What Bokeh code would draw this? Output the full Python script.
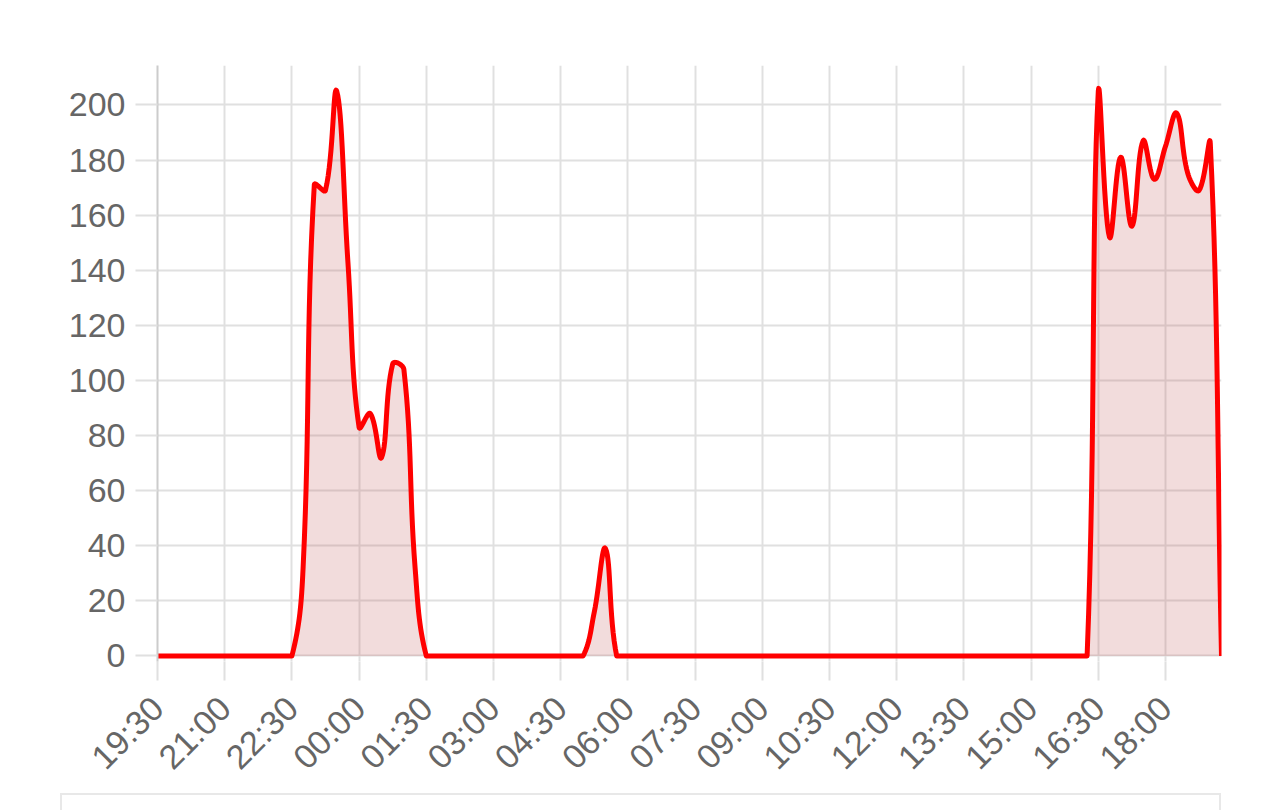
import numpy as np
from math import pi
from bokeh.plotting import figure
from bokeh.models import FixedTicker, Range1d, Div
from bokeh.layouts import column
from bokeh.embed import file_html
from bokeh.resources import INLINE

# ---- data (15-minute samples starting at 19:30) ----
interval_minutes = 15
values = [
    0, 0, 0, 0, 0, 0, 0, 0, 0, 0, 0, 0, 0,          # 19:30 .. 22:30
    32, 171, 169, 205, 143, 83, 88, 72, 106, 104, 32,  # 22:45 .. 01:15
    0, 0, 0, 0, 0, 0, 0, 0, 0, 0, 0, 0, 0, 0, 0,    # 01:30 .. 05:00
    16, 39,                                          # 05:15 .. 05:30
    0, 0, 0, 0, 0, 0, 0, 0, 0, 0, 0, 0, 0, 0, 0, 0, 0, 0, 0, 0,
    0, 0, 0, 0, 0, 0, 0, 0, 0, 0, 0, 0, 0, 0, 0, 0, 0, 0, 0, 0,
    0, 0, 0,                                         # 05:45 .. 16:15
    205, 152, 181, 156, 187, 173, 185, 197, 175, 169, 186,  # 16:30 .. 19:00
    0,                                               # 19:15
]
tick_labels = ["19:30", "21:00", "22:30", "00:00", "01:30", "03:00", "04:30", "06:00",
               "07:30", "09:00", "10:30", "12:00", "13:30", "15:00", "16:30", "18:00"]
tick_step_minutes = 90
y_ticks = [0, 20, 40, 60, 80, 100, 120, 140, 160, 180, 200]

x = np.arange(len(values)) * interval_minutes
y = np.array(values, dtype=float)

Y_MIN, Y_MAX = -2, 214.3
FRAME_W, FRAME_H = 1064, 596


def tension_curve(xv, yv, tension=0.4, n=16):
    """Cardinal-style bezier smoothing (as used by common JS chart libraries),
    computed in screen-proportional space, control points clamped to the data area."""
    sx = FRAME_W / (xv[-1] - xv[0])
    sy = FRAME_H / (Y_MAX - Y_MIN)
    P = np.column_stack([xv * sx, yv * sy])
    N = len(P)
    cprev = np.zeros_like(P)
    cnext = np.zeros_like(P)
    for i in range(N):
        p0 = P[i - 1] if i > 0 else P[i]
        p1 = P[i]
        p2 = P[i + 1] if i < N - 1 else P[i]
        d01 = np.hypot(*(p1 - p0))
        d12 = np.hypot(*(p2 - p1))
        tot = d01 + d12
        s01 = d01 / tot if tot else 0.0
        s12 = d12 / tot if tot else 0.0
        cprev[i] = p1 - tension * s01 * (p2 - p0)
        cnext[i] = p1 + tension * s12 * (p2 - p0)
    lo = np.array([P[0, 0], 0.0])
    hi = np.array([P[-1, 0], Y_MAX * sy])
    cprev = np.clip(cprev, lo, hi)
    cnext = np.clip(cnext, lo, hi)
    t = np.linspace(0, 1, n, endpoint=False)[:, None]
    pts = []
    for i in range(N - 1):
        a, b, c, d = P[i], cnext[i], cprev[i + 1], P[i + 1]
        pts.append((1 - t) ** 3 * a + 3 * (1 - t) ** 2 * t * b + 3 * (1 - t) * t ** 2 * c + t ** 3 * d)
    pts.append(P[-1][None, :])
    pts = np.vstack(pts)
    return pts[:, 0] / sx, np.clip(pts[:, 1] / sy, 0, None)


cx, cy = tension_curve(x.astype(float), y)

p = figure(width=1231, height=793, output_backend="svg", toolbar_location=None,
           x_range=Range1d(0, x[-1]), y_range=Range1d(Y_MIN, Y_MAX),
           min_border_left=157, min_border_right=10, min_border_top=65, min_border_bottom=132,
           outline_line_color=None)

p.varea(x=cx, y1=np.zeros_like(cy), y2=cy, fill_color=(190, 80, 80), fill_alpha=0.2)
p.line(cx, cy, line_color="#ff0000", line_width=5, line_join="round")

tick_pos = [i * tick_step_minutes for i in range(len(tick_labels))]
p.xaxis.ticker = FixedTicker(ticks=tick_pos)
p.xaxis.major_label_overrides = {tp: lab for tp, lab in zip(tick_pos, tick_labels)}
p.yaxis.ticker = FixedTicker(ticks=y_ticks)

grid_col = "#e0e0e0"
p.grid.grid_line_color = grid_col
p.grid.grid_line_width = 2

label_font = "Liberation Sans"
for ax in (p.xaxis[0], p.yaxis[0]):
    ax.major_label_text_font = label_font
    ax.major_label_text_font_size = "34px"
    ax.major_label_text_color = "#666666"
    ax.major_tick_line_color = grid_col
    ax.major_tick_line_width = 2
    ax.major_tick_in = 0
    ax.minor_tick_line_color = None

p.xaxis.axis_line_color = None
p.xaxis.major_tick_out = 19
p.xaxis.major_label_standoff = 22
p.xaxis.major_label_orientation = pi / 4

p.yaxis.axis_line_color = "#cccccc"
p.yaxis.axis_line_width = 2
p.yaxis.major_tick_out = 22
p.yaxis.major_label_standoff = 10

box = Div(text="", width=1161, height=17, margin=(0, 0, 0, 60),
          styles={"border": "2px solid #e8e8e8", "border-bottom": "none",
                  "box-sizing": "border-box"})

layout = column(p, box, spacing=0)
open("out.html", "w").write(file_html(layout, INLINE))
